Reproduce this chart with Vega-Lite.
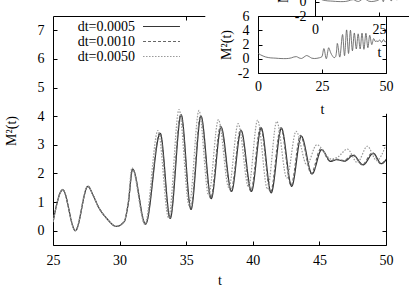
{
  "$schema": "https://vega.github.io/schema/vega-lite/v6.json",
  "width": 333,
  "height": 229,
  "autosize": {"type": "none"},
  "padding": {"left": 53, "top": 16, "right": 23, "bottom": 41},
  "background": "white",
  "config": {
    "view": {"stroke": null},
    "font": "Liberation Serif",
    "axis": {
      "grid": false,
      "labelFont": "Liberation Serif",
      "labelFontSize": 14,
      "labelColor": "#000",
      "titleFont": "Liberation Serif",
      "titleFontSize": 14,
      "titleFontWeight": "normal",
      "titleColor": "#000",
      "domainColor": "#000",
      "domainWidth": 1,
      "tickColor": "#000",
      "tickWidth": 1,
      "tickSize": -4,
      "labelFlush": false,
      "labelOverlap": false,
      "labelExpr": "replace(datum.label, '\u2212', '-')",
      "zindex": 1
    }
  },
  "data": {
    "values": [
      {"t": 0, "m": 0.78, "s": "dt=0.0005"},
      {"t": 1, "m": 0.55, "s": "dt=0.0005"},
      {"t": 2, "m": 0.38, "s": "dt=0.0005"},
      {"t": 3, "m": 0.25, "s": "dt=0.0005"},
      {"t": 4, "m": 0.17, "s": "dt=0.0005"},
      {"t": 5, "m": 0.12, "s": "dt=0.0005"},
      {"t": 6, "m": 0.1, "s": "dt=0.0005"},
      {"t": 7, "m": 0.08, "s": "dt=0.0005"},
      {"t": 8, "m": 0.05, "s": "dt=0.0005"},
      {"t": 9, "m": 0.03, "s": "dt=0.0005"},
      {"t": 10, "m": 0.02, "s": "dt=0.0005"},
      {"t": 11, "m": 0.02, "s": "dt=0.0005"},
      {"t": 12, "m": 0.05, "s": "dt=0.0005"},
      {"t": 13, "m": 0.12, "s": "dt=0.0005"},
      {"t": 14, "m": 0.25, "s": "dt=0.0005"},
      {"t": 15, "m": 0.3, "s": "dt=0.0005"},
      {"t": 16, "m": 0.12, "s": "dt=0.0005"},
      {"t": 17, "m": 0.04, "s": "dt=0.0005"},
      {"t": 18, "m": 0.25, "s": "dt=0.0005"},
      {"t": 19, "m": 0.45, "s": "dt=0.0005"},
      {"t": 20, "m": 0.3, "s": "dt=0.0005"},
      {"t": 21, "m": 0.08, "s": "dt=0.0005"},
      {"t": 22, "m": 0.03, "s": "dt=0.0005"},
      {"t": 23, "m": 0.06, "s": "dt=0.0005"},
      {"t": 24, "m": 0.14, "s": "dt=0.0005"},
      {"t": 25.0, "m": 0.3, "s": "dt=0.0005"},
      {"t": 25.73, "m": 1.43, "s": "dt=0.0005"},
      {"t": 26.68, "m": 0.0, "s": "dt=0.0005"},
      {"t": 27.62, "m": 1.55, "s": "dt=0.0005"},
      {"t": 28.0, "m": 1.25, "s": "dt=0.0005"},
      {"t": 28.4, "m": 0.84, "s": "dt=0.0005"},
      {"t": 29.03, "m": 0.43, "s": "dt=0.0005"},
      {"t": 29.75, "m": 0.15, "s": "dt=0.0005"},
      {"t": 30.35, "m": 0.32, "s": "dt=0.0005"},
      {"t": 30.65, "m": 0.95, "s": "dt=0.0005"},
      {"t": 30.98, "m": 2.15, "s": "dt=0.0005"},
      {"t": 31.95, "m": 0.23, "s": "dt=0.0005"},
      {"t": 33.05, "m": 3.4, "s": "dt=0.0005"},
      {"t": 33.8, "m": 0.43, "s": "dt=0.0005"},
      {"t": 34.62, "m": 4.05, "s": "dt=0.0005"},
      {"t": 35.36, "m": 0.74, "s": "dt=0.0005"},
      {"t": 36.11, "m": 4.0, "s": "dt=0.0005"},
      {"t": 36.88, "m": 1.12, "s": "dt=0.0005"},
      {"t": 37.62, "m": 3.62, "s": "dt=0.0005"},
      {"t": 38.4, "m": 1.37, "s": "dt=0.0005"},
      {"t": 39.12, "m": 3.5, "s": "dt=0.0005"},
      {"t": 39.9, "m": 1.37, "s": "dt=0.0005"},
      {"t": 40.63, "m": 3.59, "s": "dt=0.0005"},
      {"t": 41.38, "m": 1.32, "s": "dt=0.0005"},
      {"t": 42.15, "m": 3.58, "s": "dt=0.0005"},
      {"t": 42.92, "m": 1.55, "s": "dt=0.0005"},
      {"t": 43.64, "m": 3.3, "s": "dt=0.0005"},
      {"t": 44.45, "m": 1.98, "s": "dt=0.0005"},
      {"t": 45.17, "m": 2.83, "s": "dt=0.0005"},
      {"t": 45.85, "m": 2.42, "s": "dt=0.0005"},
      {"t": 46.3, "m": 2.48, "s": "dt=0.0005"},
      {"t": 46.9, "m": 2.43, "s": "dt=0.0005"},
      {"t": 47.55, "m": 2.63, "s": "dt=0.0005"},
      {"t": 48.28, "m": 2.3, "s": "dt=0.0005"},
      {"t": 49.05, "m": 2.7, "s": "dt=0.0005"},
      {"t": 49.65, "m": 2.34, "s": "dt=0.0005"},
      {"t": 50.0, "m": 2.48, "s": "dt=0.0005"},
      {"t": 25.0, "m": 0.3, "s": "dt=0.0010"},
      {"t": 25.73, "m": 1.43, "s": "dt=0.0010"},
      {"t": 26.68, "m": 0.0, "s": "dt=0.0010"},
      {"t": 27.62, "m": 1.55, "s": "dt=0.0010"},
      {"t": 28.0, "m": 1.25, "s": "dt=0.0010"},
      {"t": 28.4, "m": 0.84, "s": "dt=0.0010"},
      {"t": 29.03, "m": 0.43, "s": "dt=0.0010"},
      {"t": 29.75, "m": 0.15, "s": "dt=0.0010"},
      {"t": 30.35, "m": 0.32, "s": "dt=0.0010"},
      {"t": 30.65, "m": 0.95, "s": "dt=0.0010"},
      {"t": 30.97, "m": 2.16, "s": "dt=0.0010"},
      {"t": 31.93, "m": 0.23, "s": "dt=0.0010"},
      {"t": 33.02, "m": 3.42, "s": "dt=0.0010"},
      {"t": 33.77, "m": 0.43, "s": "dt=0.0010"},
      {"t": 34.59, "m": 4.07, "s": "dt=0.0010"},
      {"t": 35.33, "m": 0.76, "s": "dt=0.0010"},
      {"t": 36.08, "m": 4.02, "s": "dt=0.0010"},
      {"t": 36.84, "m": 1.13, "s": "dt=0.0010"},
      {"t": 37.58, "m": 3.65, "s": "dt=0.0010"},
      {"t": 38.36, "m": 1.38, "s": "dt=0.0010"},
      {"t": 39.08, "m": 3.53, "s": "dt=0.0010"},
      {"t": 39.85, "m": 1.38, "s": "dt=0.0010"},
      {"t": 40.58, "m": 3.62, "s": "dt=0.0010"},
      {"t": 41.33, "m": 1.34, "s": "dt=0.0010"},
      {"t": 42.1, "m": 3.6, "s": "dt=0.0010"},
      {"t": 42.87, "m": 1.58, "s": "dt=0.0010"},
      {"t": 43.58, "m": 3.33, "s": "dt=0.0010"},
      {"t": 44.39, "m": 2.0, "s": "dt=0.0010"},
      {"t": 45.1, "m": 2.86, "s": "dt=0.0010"},
      {"t": 45.8, "m": 2.43, "s": "dt=0.0010"},
      {"t": 46.25, "m": 2.5, "s": "dt=0.0010"},
      {"t": 46.85, "m": 2.45, "s": "dt=0.0010"},
      {"t": 47.5, "m": 2.66, "s": "dt=0.0010"},
      {"t": 48.22, "m": 2.3, "s": "dt=0.0010"},
      {"t": 48.98, "m": 2.72, "s": "dt=0.0010"},
      {"t": 49.6, "m": 2.34, "s": "dt=0.0010"},
      {"t": 50.0, "m": 2.5, "s": "dt=0.0010"},
      {"t": 25.0, "m": 0.3, "s": "dt=0.0050"},
      {"t": 25.72, "m": 1.44, "s": "dt=0.0050"},
      {"t": 26.67, "m": 0.0, "s": "dt=0.0050"},
      {"t": 27.6, "m": 1.56, "s": "dt=0.0050"},
      {"t": 28.0, "m": 1.25, "s": "dt=0.0050"},
      {"t": 28.4, "m": 0.84, "s": "dt=0.0050"},
      {"t": 29.03, "m": 0.43, "s": "dt=0.0050"},
      {"t": 29.73, "m": 0.15, "s": "dt=0.0050"},
      {"t": 30.33, "m": 0.32, "s": "dt=0.0050"},
      {"t": 30.63, "m": 0.98, "s": "dt=0.0050"},
      {"t": 30.93, "m": 2.2, "s": "dt=0.0050"},
      {"t": 31.9, "m": 0.22, "s": "dt=0.0050"},
      {"t": 32.88, "m": 3.5, "s": "dt=0.0050"},
      {"t": 33.68, "m": 0.44, "s": "dt=0.0050"},
      {"t": 34.46, "m": 4.23, "s": "dt=0.0050"},
      {"t": 35.22, "m": 0.88, "s": "dt=0.0050"},
      {"t": 35.96, "m": 4.2, "s": "dt=0.0050"},
      {"t": 36.68, "m": 1.24, "s": "dt=0.0050"},
      {"t": 37.42, "m": 3.88, "s": "dt=0.0050"},
      {"t": 38.2, "m": 1.5, "s": "dt=0.0050"},
      {"t": 38.9, "m": 3.74, "s": "dt=0.0050"},
      {"t": 39.68, "m": 1.52, "s": "dt=0.0050"},
      {"t": 40.36, "m": 3.86, "s": "dt=0.0050"},
      {"t": 41.1, "m": 1.45, "s": "dt=0.0050"},
      {"t": 41.8, "m": 3.82, "s": "dt=0.0050"},
      {"t": 42.55, "m": 1.84, "s": "dt=0.0050"},
      {"t": 43.25, "m": 3.47, "s": "dt=0.0050"},
      {"t": 44.05, "m": 2.3, "s": "dt=0.0050"},
      {"t": 44.8, "m": 3.0, "s": "dt=0.0050"},
      {"t": 45.9, "m": 2.5, "s": "dt=0.0050"},
      {"t": 46.4, "m": 2.58, "s": "dt=0.0050"},
      {"t": 47.1, "m": 2.85, "s": "dt=0.0050"},
      {"t": 47.85, "m": 2.38, "s": "dt=0.0050"},
      {"t": 48.6, "m": 2.95, "s": "dt=0.0050"},
      {"t": 49.3, "m": 2.45, "s": "dt=0.0050"},
      {"t": 50.0, "m": 3.0, "s": "dt=0.0050"}
    ]
  },
  "layer": [
    {
      "transform": [{"filter": "datum.t >= 25"}],
      "mark": {"type": "line", "interpolate": "monotone", "strokeWidth": 1.2, "clip": true},
      "encoding": {
        "x": {"field": "t", "type": "quantitative",
          "scale": {"domain": [25, 50], "nice": false, "zero": false},
          "axis": {"orient": "bottom", "values": [25, 30, 35, 40, 45, 50], "title": "t", "labelPadding": 12, "titlePadding": 6}},
        "y": {"field": "m", "type": "quantitative",
          "scale": {"domain": [-0.5, 7.5], "nice": false, "zero": false},
          "axis": {"orient": "left", "values": [0, 1, 2, 3, 4, 5, 6, 7], "title": "M²(t)", "labelPadding": 13, "titlePadding": 19}},
        "color": {"field": "s", "type": "nominal",
          "scale": {"range": ["#333333", "#666666", "#999999"]},
          "legend": {"title": null, "orient": "none", "legendX": 101, "legendY": 3, "padding": 0, "labelAlign": "right", "labelOffset": -34, "labelFont": "Liberation Serif", "labelFontSize": 14, "labelColor": "#000", "symbolType": "M-2.64,0H2.64", "symbolSize": 196, "symbolStrokeWidth": 1, "rowPadding": -1, "labelLimit": 0}},
        "strokeDash": {"field": "s", "type": "nominal",
          "scale": {"range": [[1, 0], [3, 2], [1.5, 1.5]]},
          "legend": {"title": null, "orient": "none", "legendX": 101, "legendY": 3, "padding": 0, "labelAlign": "right", "labelOffset": -34, "labelFont": "Liberation Serif", "labelFontSize": 14, "labelColor": "#000", "symbolType": "M-2.64,0H2.64", "symbolSize": 196, "symbolStrokeWidth": 1, "rowPadding": -1, "labelLimit": 0}}
      }
    },
    {
      "transform": [{"filter": "datum.t >= 25"}],
      "mark": {"type": "line", "strokeOpacity": 0},
      "encoding": {
        "x": {"field": "t", "type": "quantitative",
          "scale": {"domain": [25, 36.4], "range": [0, 151.8], "nice": false, "zero": false},
          "axis": {"orient": "top", "values": [35], "labels": false, "title": null}},
        "y": {"field": "m", "type": "quantitative",
          "scale": {"domain": [-0.5, 4.1], "range": [229, 97.3], "nice": false, "zero": false},
          "axis": {"orient": "right", "values": [0, 1, 2, 3, 4], "labels": false, "title": null}}
      }
    },
    {
      "transform": [{"filter": "datum.s == 'dt=0.0005'"}],
      "mark": {"type": "line", "interpolate": "monotone", "strokeWidth": 0.8, "color": "#555555"},
      "encoding": {
        "x": {"field": "t", "type": "quantitative",
          "scale": {"domain": [0, 50], "range": [205, 333], "nice": false, "zero": false},
          "axis": {"orient": "bottom", "offset": -172, "values": [0, 25, 50], "title": "t", "labelPadding": 10, "titlePadding": 9}},
        "y": {"field": "m", "type": "quantitative",
          "scale": {"domain": [-2, 6], "range": [57, 0], "nice": false, "zero": false},
          "axis": {"orient": "left", "offset": -205, "values": [-2, 0, 2, 4, 6], "title": "M²(t)", "labelPadding": 13, "titlePadding": 4}}
      }
    },
    {
      "transform": [{"filter": "datum.s == 'dt=0.0005'"}],
      "mark": {"type": "line", "strokeOpacity": 0},
      "encoding": {
        "x": {"field": "t", "type": "quantitative",
          "scale": {"domain": [0, 50], "range": [205, 333], "nice": false, "zero": false},
          "axis": {"orient": "top", "offset": 0, "values": [0, 25, 50], "labels": false, "title": null}},
        "y": {"field": "m", "type": "quantitative",
          "scale": {"domain": [-2, 6], "range": [57, 0], "nice": false, "zero": false},
          "axis": {"orient": "right", "offset": 0, "values": [-2, 0, 2, 4, 6], "labels": false, "title": null}}
      }
    },
    {
      "transform": [{"filter": "datum.s == 'dt=0.0005'"}],
      "mark": {"type": "line", "interpolate": "monotone", "strokeWidth": 0.8, "color": "#555555"},
      "encoding": {
        "x": {"field": "t", "type": "quantitative",
          "scale": {"domain": [0, 50], "range": [262, 390], "nice": false, "zero": false},
          "axis": {"orient": "bottom", "offset": -229, "values": [0, 25, 50], "title": "t", "labelPadding": 10, "titlePadding": 9}},
        "y": {"field": "m", "type": "quantitative",
          "scale": {"domain": [-2, 6], "range": [0, -57], "nice": false, "zero": false},
          "axis": {"orient": "left", "offset": -262, "values": [-2, 0, 2, 4, 6], "title": "M²(t)", "labelPadding": 13, "titlePadding": 4}}
      }
    }
  ],
  "resolve": {"scale": {"x": "independent", "y": "independent", "color": "independent", "strokeDash": "independent"}}
}
